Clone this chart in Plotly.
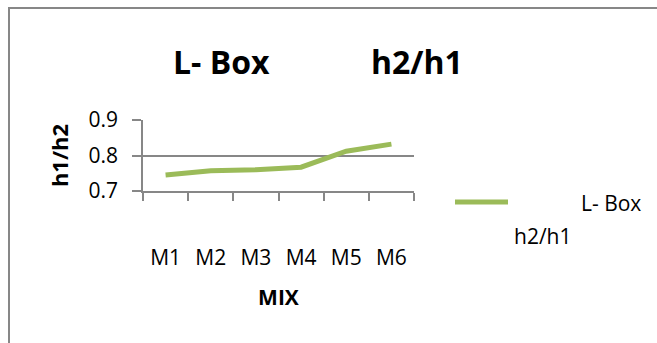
import plotly.graph_objects as go

categories = ["M1", "M2", "M3", "M4", "M5", "M6"]
ratio_values = [0.745, 0.757, 0.760, 0.767, 0.812, 0.832]
y_ticks = [0.7, 0.8, 0.9]
y_tick_labels = ["0.7", "0.8", "0.9"]

W, H = 657, 343
L, R, T, B = 143, 243, 120, 152
PW, PH = W - L - R, H - T - B

def px(x):
    return (x - L) / PW

def py(y):
    return 1 - (y - T) / PH

FONT = "Open Sans"
GRAY = "#878787"
GREEN = "#9BBB59"

fig = go.Figure()
fig.add_trace(go.Scatter(
    x=categories, y=ratio_values, mode="lines",
    line=dict(color=GREEN, width=5),
    name="L- Box h2/h1", showlegend=False,
))

fig.update_layout(
    width=W, height=H,
    margin=dict(l=L, r=R, t=T, b=B),
    paper_bgcolor="white", plot_bgcolor="white",
    font=dict(family=FONT, color="black", size=21),
    xaxis=dict(
        type="category", range=[-0.5, len(categories) - 0.5],
        tickson="boundaries", ticks="outside", ticklen=8,
        tickcolor=GRAY, tickwidth=1.5, showline=True, linecolor=GRAY, linewidth=1.5,
        showgrid=False, ticklabelstandoff=47, tickfont=dict(size=21),
        title=dict(text="<b>MIX</b>", font=dict(size=21), standoff=20),
        fixedrange=True,
    ),
    yaxis=dict(
        range=[0.7, 0.9], tickvals=y_ticks, ticktext=y_tick_labels,
        ticks="outside", ticklen=9, tickcolor=GRAY, tickwidth=1.5,
        showline=True, linecolor=GRAY, linewidth=1.5,
        showgrid=True, gridcolor=GRAY, gridwidth=1.5, zeroline=False,
        ticklabelstandoff=10, tickfont=dict(size=21),
        title=dict(text="<b>h1/h2</b>", font=dict(size=22), standoff=14),
    ),
    shapes=[
        dict(type="rect", xref="paper", yref="paper",
             x0=px(9), y0=py(8), x1=px(720), y1=py(420),
             line=dict(color=GRAY, width=2), fillcolor="rgba(0,0,0,0)", layer="below"),
        dict(type="line", xref="paper", yref="paper",
             x0=px(455), y0=py(202), x1=px(508), y1=py(202),
             line=dict(color=GREEN, width=5)),
    ],
    annotations=[
        dict(text="<b>L- Box</b>", xref="paper", yref="paper", x=px(171), y=py(61),
             xanchor="left", yanchor="middle", showarrow=False, font=dict(size=32)),
        dict(text="<b>h2/h1</b>", xref="paper", yref="paper", x=px(369), y=py(61),
             xanchor="left", yanchor="middle", showarrow=False, font=dict(size=32)),
        dict(text="L- Box", xref="paper", yref="paper", x=px(579), y=py(203),
             xanchor="left", yanchor="middle", showarrow=False, font=dict(size=21)),
        dict(text="h2/h1", xref="paper", yref="paper", x=px(512), y=py(236),
             xanchor="left", yanchor="middle", showarrow=False, font=dict(size=21)),
    ],
)

fig.write_html("out.html")
